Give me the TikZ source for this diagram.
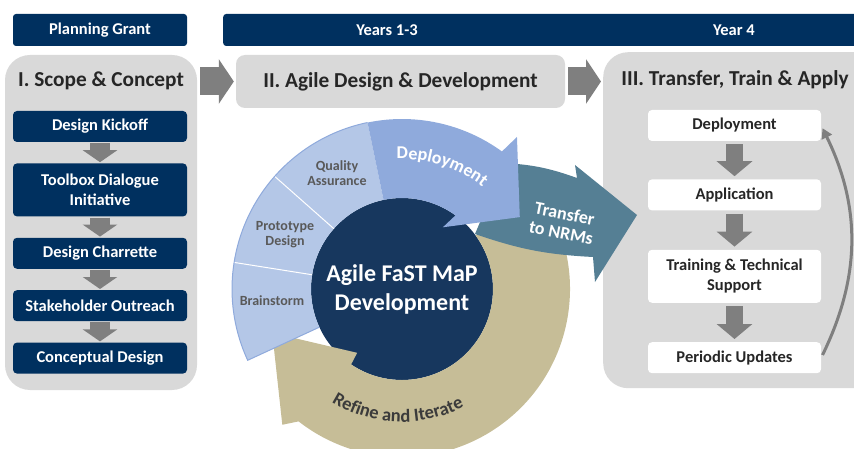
\documentclass[tikz,border=0pt]{standalone}
\usepackage{fontspec}
\setmainfont{Carlito}
\usetikzlibrary{arrows.meta,positioning,decorations.text}

\definecolor{navy}{HTML}{00305F}
\definecolor{corenavy}{HTML}{17375E}
\definecolor{panelgray}{HTML}{D9D9D9}
\definecolor{arrgray}{HTML}{7F7F7F}
\definecolor{titlegray}{HTML}{262626}
\definecolor{labelgray}{HTML}{595959}
\definecolor{seglight}{HTML}{B4C7E7}
\definecolor{segdep}{HTML}{8FAADC}
\definecolor{segline}{HTML}{8FAADC}
\definecolor{nrmteal}{HTML}{557F94}
\definecolor{refinetan}{HTML}{C6BD97}
\definecolor{refinetext}{HTML}{3B3B3B}

\begin{document}
\begin{tikzpicture}[x=1pt,y=-1pt,node distance=21pt,
    band/.style={fill=navy,rounded corners=3pt,minimum height=32pt,inner sep=0pt},
    bandlabel/.style={text=white,font=\fontsize{16.5}{19}\selectfont\bfseries},
    panel/.style={fill=panelgray,rounded corners=25pt,inner sep=0pt},
    panelhead/.style={text=titlegray,font=\fontsize{21.3}{24}\selectfont\bfseries},
    navybox/.style={fill=navy,text=white,rounded corners=4pt,minimum width=174pt,minimum height=31pt,
      inner sep=2pt,align=center,font=\fontsize{16.5}{20}\selectfont\bfseries},
    whitebox/.style={fill=white,text=titlegray,rounded corners=4pt,minimum width=173pt,minimum height=31pt,
      inner sep=2pt,align=center,font=\fontsize{16.5}{20}\selectfont\bfseries},
    downarr/.style={color=arrgray,line width=20pt,-{Triangle[width=34pt,length=12pt]},shorten <=1pt,shorten >=1pt},
    stepdown/.style={color=arrgray,line width=17pt,-{Triangle[width=35pt,length=15pt]},shorten <=3pt,shorten >=3pt},
    bigarr/.style={color=arrgray,line width=28pt,-{Triangle[width=44pt,length=15pt]},shorten <=3pt,shorten >=2pt},
    cyclearr/.style={color=arrgray,line width=3pt,-{Triangle[width=11pt,length=10pt]},shorten <=3pt,shorten >=3pt},
    seglabel/.style={text=labelgray,align=center,font=\fontsize{14}{15}\selectfont\bfseries}
  ]
  \useasboundingbox (0,0) rectangle (854,449);
  \clip (0,0) rectangle (854,449);

  % time bands
  \node[band,minimum width=174pt] (grant) at (100,30) {};
  \node[bandlabel] (grantlabel) at (grant) {Planning Grant};
  \node[band,minimum width=640pt,anchor=west] (years) at (223,30) {};
  \node[bandlabel] (y13) at (387,30) {Years 1-3};
  \node[bandlabel] (y4) at (734,30) {Year 4};

  % stages
  \node[panel,minimum width=192pt,minimum height=335pt] (stage1) at (101,222.5) {};
  \node[panelhead] (head1) at (101,81) {I. Scope \& Concept};
  \node[panel,panelhead,rounded corners=9pt,minimum width=329pt,minimum height=53pt] (stage2) at (400.5,81.5) {II. Agile Design \& Development};
  \node[panel,minimum width=280pt,minimum height=336pt,anchor=north west] (stage3) at (603,52) {};
  \node[panelhead] (head3) at (735,80) {III. Transfer, Train \& Apply};

  \draw[bigarr] (stage1.east |- stage2.west) -- (stage2.west);
  \draw[bigarr] (stage2.east) -- (stage2.east -| stage3.west);

  % scope and concept
  \node[navybox]                    (kick)      at (100,126.5)     {Design Kickoff};
  \node[navybox,minimum height=53pt] (toolbox)  [below=of kick]     {Toolbox Dialogue\\Initiative};
  \node[navybox]                    (charrette) [below=of toolbox]  {Design Charrette};
  \node[navybox]                    (outreach)  [below=of charrette] {Stakeholder Outreach};
  \node[navybox]                    (concept)   [below=of outreach] {Conceptual Design};

  \path[downarr]
    (kick)      edge (toolbox)
    (toolbox)   edge (charrette)
    (charrette) edge (outreach)
    (outreach)  edge (concept);

  % transfer, train and apply
  \node[whitebox]                    (deploy)  at (734.5,125.5)       {Deployment};
  \node[whitebox]                    (apply)   [below=38pt of deploy] {Application};
  \node[whitebox,minimum height=53pt] (train)  [below=39pt of apply]  {Training \& Technical\\Support};
  \node[whitebox]                    (updates) [below=39pt of train]  {Periodic Updates};

  \path[stepdown]
    (deploy) edge (apply)
    (apply)  edge (train)
    (train)  edge (updates);
  \draw[cyclearr] (updates.east) to[bend right=26] (deploy.east);

  % agile cycle
  \begin{scope}[shift={(402,289)},y=1pt]
    \node[circle,fill=corenavy,minimum size=182pt,inner sep=0pt] (core) at (0,0) {};
    \fill[refinetan] (36:91pt) -- (36:168pt) arc[start angle=36,end angle=-128,radius=168pt]
      -- (-131.4:181pt) -- (-161.3:137pt) -- (-125.1:78pt) -- (-124:91pt)
      arc[start angle=-124,end angle=36,radius=91pt] -- cycle;
    \fill[nrmteal] (103,126) to[bend left=8] (175,111) -- (173,124) -- (235,74) -- (193,7) -- (191,32)
      to[bend left=8] (73,55) -- cycle;
    \fill[seglight] (204.8:91pt) -- (204.8:170pt) arc[start angle=204.8,end angle=101.7,radius=170pt]
      -- (101.7:91pt) arc[start angle=101.7,end angle=204.8,radius=91pt] -- cycle;
    \draw[white,line width=1pt] (171:91pt) -- (171:170pt);
    \draw[white,line width=1pt] (138.5:91pt) -- (138.5:170pt);
    \draw[segline,line width=1pt] (204.8:91pt) -- (204.8:170pt) arc[start angle=204.8,end angle=101.7,radius=170pt];
    \fill[segdep] (101.7:91pt) -- (101.7:170pt) arc[start angle=101.7,end angle=54,radius=170pt]
      -- (52.9:190.6pt) -- (31.4:138pt) -- (56.5:74pt) -- (54:91pt)
      arc[start angle=54,end angle=101.7,radius=91pt] -- cycle;

    \node[seglabel] (quality) at (-65,116) {Quality\\Assurance};
    \node[seglabel] (proto)   at (-117,54) {Prototype\\Design};
    \node[seglabel] (brain)   at (-130,-12) {Brainstorm};
    \node[text=white,align=center,rotate=-11,font=\fontsize{18}{19}\selectfont\bfseries] (nrm) at (161,66) {Transfer\\to NRMs};
    \node[text=white,align=center,font=\fontsize{24}{29}\selectfont\bfseries] (coretext) at (core) {Agile FaST MaP\\Development};

    \path[decorate,decoration={text along path,text align=center,text color=white,
        text={|\fontsize{18}{20}\selectfont\bfseries|Deployment}}]
      (101:130pt) arc[start angle=101,end angle=43,radius=130pt];
    \path[decorate,decoration={text along path,text align=center,text color=refinetext,
        text={|\fontsize{18.5}{20}\selectfont\bfseries|Refine and Iterate}}]
      (230:133pt) arc[start angle=230,end angle=306,radius=133pt];
  \end{scope}
\end{tikzpicture}
\end{document}
